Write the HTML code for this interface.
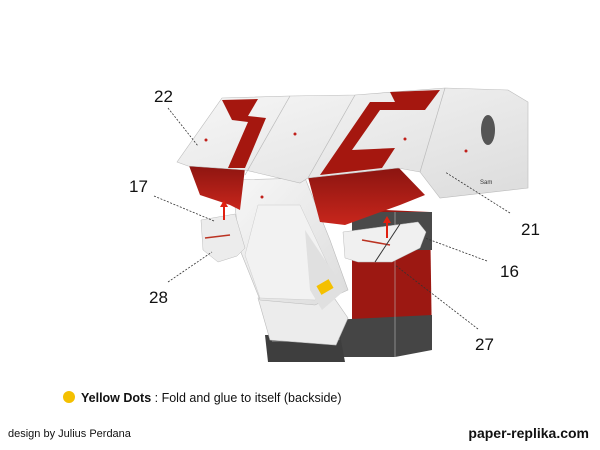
<!DOCTYPE html>
<html><head><meta charset="utf-8"><style>
html,body{margin:0;padding:0;background:#fff;width:600px;height:450px;overflow:hidden}
svg{display:block}
text{font-family:"Liberation Sans",Arial,sans-serif}
</style></head><body>
<svg width="600" height="450" viewBox="0 0 600 450">
<defs>
<linearGradient id="red" x1="0" y1="0" x2="0" y2="1"><stop offset="0" stop-color="#8a1410"/><stop offset="1" stop-color="#c8261c"/></linearGradient>
<linearGradient id="wh" x1="0" y1="0" x2="1" y2="1"><stop offset="0" stop-color="#f7f7f7"/><stop offset="1" stop-color="#dcdcdc"/></linearGradient>
</defs>
<polygon points="352,212 385,210 430,212 432,345 395,352 352,350" fill="#9c1812"/>
<polygon points="352,212 432,212 432,250 352,250" fill="#4a4a4a"/>
<polygon points="330,320 432,315 432,350 395,357 330,357" fill="#454545"/>
<line x1="395" y1="212" x2="395" y2="357" stroke="#bbb" stroke-width="0.6"/>
<polygon points="265,335 340,335 345,362 268,362" fill="#3e3e3e"/>
<polygon points="270,328 335,328 340,340 272,342" fill="#6a6a6a"/>
<polygon points="258,298 330,292 348,318 336,345 270,340" fill="#ececec" stroke="#bbb" stroke-width="0.6"/>
<polygon points="232,180 305,178 330,240 348,290 315,305 260,300 240,250" fill="url(#wh)" stroke="#bbb" stroke-width="0.6"/>
<polygon points="258,205 300,205 335,280 315,300 260,298 245,255" fill="#f2f2f2" stroke="#ccc" stroke-width="0.5"/>
<polygon points="305,230 345,290 322,310 310,290" fill="#e0e0e0"/>
<rect x="318" y="282" width="14" height="10" fill="#f4c000" transform="rotate(-30 325 287)"/>
<polygon points="188,163 245,168 240,210 230,205 200,195" fill="url(#red)"/>
<polygon points="308,177 398,167 425,195 400,205 345,225 320,222" fill="url(#red)"/>
<polygon points="177,162 222,98 290,96 355,95 445,88 508,90 528,102 528,188 440,198 420,172 398,168 308,178 300,183 245,170 188,166" fill="url(#wh)" stroke="#bbb" stroke-width="0.6"/>
<line x1="290" y1="96" x2="245" y2="175" stroke="#bbb" stroke-width="0.7"/>
<line x1="355" y1="95" x2="308" y2="178" stroke="#bbb" stroke-width="0.7"/>
<line x1="445" y1="88" x2="420" y2="172" stroke="#bbb" stroke-width="0.7"/>
<polygon points="222,100 258,99 248,116 266,118 245,168 228,168 248,122 232,120" fill="#a5170f"/>
<polygon points="390,92 440,90 425,110 380,110 352,150 395,148 382,168 320,175 370,102 395,102" fill="#a5170f"/>
<ellipse cx="488" cy="130" rx="7" ry="15" fill="#555"/>
<text x="480" y="184" font-size="6" fill="#333">Sam</text>
<g fill="#c0201a"><circle cx="206" cy="140" r="1.5"/><circle cx="295" cy="134" r="1.5"/><circle cx="405" cy="139" r="1.5"/><circle cx="466" cy="151" r="1.5"/><circle cx="262" cy="197" r="1.5"/></g>
<polygon points="201,220 235,214 245,248 237,256 218,262 203,250" fill="#ececec" stroke="#bbb" stroke-width="0.5"/>
<line x1="205" y1="238" x2="230" y2="235" stroke="#b32" stroke-width="1.5"/>
<polygon points="343,232 418,222 426,232 420,248 392,262 358,262 345,258" fill="#f0f0f0" stroke="#bbb" stroke-width="0.5"/>
<line x1="362" y1="240" x2="390" y2="245" stroke="#b32" stroke-width="1.5"/>
<line x1="375" y1="262" x2="400" y2="224" stroke="#333" stroke-width="1"/>
<g stroke="#e02010" stroke-width="2" fill="#e02010"><line x1="224" y1="220" x2="224" y2="206"/><polygon points="220,207 228,207 224,200" stroke="none"/><line x1="387" y1="238" x2="387" y2="222"/><polygon points="383,223 391,223 387,216" stroke="none"/></g>
<g stroke="#333" stroke-width="0.8" stroke-dasharray="2,1.5" fill="none">
<line x1="168" y1="108" x2="198" y2="146"/>
<line x1="154" y1="196" x2="214" y2="221"/>
<line x1="168" y1="282" x2="212" y2="252"/>
<line x1="510" y1="213" x2="445" y2="172"/>
<line x1="487" y1="261" x2="425" y2="238"/>
<line x1="478" y1="329" x2="395" y2="265"/>
</g>
<g font-size="17" fill="#111">
<text x="154" y="102">22</text>
<text x="129" y="192">17</text>
<text x="149" y="303">28</text>
<text x="521" y="235">21</text>
<text x="500" y="277">16</text>
<text x="475" y="350">27</text>
</g>
<circle cx="69" cy="397" r="6" fill="#f4c000"/>
<text x="81" y="402" font-size="12.5" fill="#111"><tspan font-weight="bold">Yellow Dots</tspan> : Fold and glue to itself (backside)</text>
<text x="8" y="437" font-size="11" fill="#111">design by Julius Perdana</text>
<text x="589" y="438" font-size="14" font-weight="bold" fill="#111" text-anchor="end">paper-replika.com</text>
</svg>
</body></html>
